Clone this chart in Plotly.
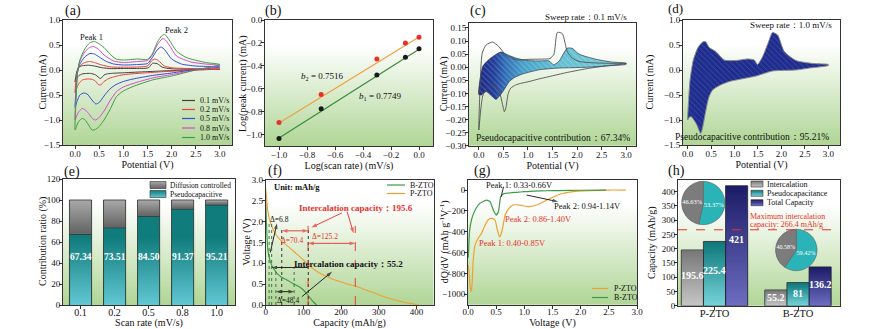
import base64
import struct
import zlib
import plotly.graph_objects as go

W, H = 893, 329
FONT = "Liberation Serif"

# ===================== data =====================
# (a) cyclic voltammograms: oxidation sweep (0 -> 3 V) then reduction sweep (3 -> 0 V)
scan_labels = ["0.1 mV/s", "0.2 mV/s", "0.5 mV/s", "0.8 mV/s", "1.0 mV/s"]

cv01_E_ox = [0.0, 0.02, 0.07, 0.15, 0.28, 0.4, 0.55, 0.75, 1.0, 1.3, 1.45, 1.53, 1.6, 1.7, 1.8, 1.9, 2.04, 2.3, 2.6, 3.0]
cv01_I_ox = [-0.24, -0.1, 0.054, 0.085, 0.096, 0.08, 0.047, 0.028, 0.03, 0.031, 0.033, 0.05, 0.133, 0.128, 0.06, 0.035, 0.022, 0.017, 0.015, 0.014]
cv01_E_red = [2.6, 2.25, 1.8, 1.43, 1.2, 1.02, 0.85, 0.75, 0.65, 0.6, 0.55, 0.52, 0.48, 0.42, 0.32, 0.22, 0.15, 0.08, 0.04, 0.0]
cv01_I_red = [0.005, -0.004, -0.02, -0.036, -0.046, -0.055, -0.062, -0.068, -0.08, -0.1, -0.155, -0.17, -0.14, -0.095, -0.068, -0.07, -0.08, -0.11, -0.16, -0.24]

cv02_E_ox = [0.0, 0.02, 0.06, 0.12, 0.2, 0.3, 0.4, 0.55, 0.75, 1.0, 1.3, 1.5, 1.58, 1.65, 1.72, 1.85, 2.0, 2.3, 2.6, 3.0]
cv02_I_ox = [-0.45, -0.2, 0.02, 0.1, 0.15, 0.17, 0.15, 0.1, 0.06, 0.055, 0.06, 0.08, 0.18, 0.22, 0.19, 0.08, 0.045, 0.03, 0.025, 0.02]
cv02_E_red = [2.6, 2.2, 1.8, 1.5, 1.2, 1.0, 0.85, 0.7, 0.6, 0.53, 0.48, 0.42, 0.35, 0.25, 0.15, 0.08, 0.04, 0.0]
cv02_I_red = [0.005, -0.015, -0.035, -0.055, -0.075, -0.095, -0.125, -0.17, -0.23, -0.3, -0.29, -0.22, -0.185, -0.18, -0.2, -0.27, -0.35, -0.45]

cv05_E_ox = [0.0, 0.02, 0.05, 0.1, 0.2, 0.31, 0.4, 0.5, 0.65, 0.8, 1.0, 1.3, 1.5, 1.6, 1.7, 1.78, 1.86, 2.0, 2.2, 2.5, 3.0]
cv05_I_ox = [-0.75, -0.4, -0.05, 0.12, 0.26, 0.33, 0.32, 0.26, 0.17, 0.12, 0.1, 0.11, 0.13, 0.25, 0.4, 0.46, 0.4, 0.22, 0.12, 0.08, 0.06]
cv05_E_red = [2.5, 2.0, 1.6, 1.2, 1.0, 0.85, 0.72, 0.6, 0.5, 0.43, 0.35, 0.25, 0.18, 0.1, 0.05, 0.0]
cv05_I_red = [0.01, -0.06, -0.11, -0.18, -0.23, -0.29, -0.38, -0.52, -0.65, -0.68, -0.6, -0.48, -0.46, -0.5, -0.6, -0.75]

cv08_E_ox = [0.0, 0.02, 0.05, 0.1, 0.2, 0.3, 0.38, 0.48, 0.6, 0.8, 1.0, 1.3, 1.5, 1.6, 1.7, 1.8, 1.85, 1.95, 2.1, 2.4, 2.7, 3.0]
cv08_I_ox = [-1.0, -0.5, -0.05, 0.18, 0.36, 0.45, 0.47, 0.42, 0.3, 0.18, 0.15, 0.17, 0.19, 0.3, 0.5, 0.62, 0.62, 0.5, 0.28, 0.16, 0.12, 0.09]
cv08_E_red = [2.5, 2.0, 1.6, 1.2, 1.0, 0.86, 0.72, 0.6, 0.5, 0.42, 0.36, 0.28, 0.2, 0.15, 0.08, 0.04, 0.0]
cv08_I_red = [0.0, -0.09, -0.16, -0.27, -0.34, -0.43, -0.62, -0.82, -0.95, -1.0, -0.97, -0.87, -0.79, -0.77, -0.83, -0.9, -1.0]

cv10_E_ox = [0.0, 0.02, 0.05, 0.1, 0.2, 0.3, 0.4, 0.5, 0.6, 0.72, 0.85, 1.0, 1.3, 1.5, 1.6, 1.7, 1.8, 1.86, 1.95, 2.1, 2.3, 2.7, 3.0]
cv10_I_ox = [-1.2, -0.6, -0.05, 0.2, 0.42, 0.54, 0.57, 0.52, 0.45, 0.32, 0.22, 0.2, 0.22, 0.21, 0.32, 0.55, 0.69, 0.71, 0.6, 0.38, 0.25, 0.15, 0.11]
cv10_E_red = [2.5, 2.0, 1.6, 1.2, 1.0, 0.86, 0.72, 0.6, 0.5, 0.42, 0.35, 0.28, 0.2, 0.15, 0.08, 0.04, 0.0]
cv10_I_red = [0.0, -0.12, -0.2, -0.33, -0.42, -0.53, -0.8, -1.0, -1.13, -1.19, -1.2, -1.1, -0.99, -0.97, -1.02, -1.1, -1.2]

# (b) log(peak current) vs log(scan rate)
log_scan = [-1.0, -0.699, -0.301, -0.097, 0.0]
log_ip_peak2 = [-0.895, -0.65, -0.34, -0.2, -0.15]
log_ip_peak1 = [-1.035, -0.775, -0.48, -0.325, -0.25]
fit_x = [-1.0, 0.0]
fit_peak2 = [-0.8996, -0.148]
fit_peak1 = [-1.03, -0.255]
b_labels = ["<i>b</i><sub>2</sub> = 0.7516", "<i>b</i><sub>1</sub> = 0.7749"]

# (c) pseudocapacitive region, 0.1 mV/s
pc01_E_up = [0.0, 0.08, 0.18, 0.28, 0.45, 0.59, 0.75, 0.96, 1.2, 1.43, 1.52, 1.63, 1.72, 1.8, 1.9, 2.04, 2.37, 2.7, 3.0]
pc01_I_up = [-0.105, 0.003, 0.025, 0.04, 0.058, 0.047, 0.035, 0.026, 0.024, 0.024, 0.009, 0.022, 0.05, 0.073, 0.072, 0.05, 0.031, 0.02, 0.015]
pc01_E_low = [3.0, 2.6, 2.24, 1.9, 1.56, 1.23, 0.89, 0.72, 0.62, 0.49, 0.35, 0.28, 0.15, 0.05, 0.0]
pc01_I_low = [0.011, 0.005, 0.0, -0.002, -0.004, -0.01, -0.026, -0.04, -0.055, -0.093, -0.123, -0.113, -0.093, -0.106, -0.105]

# (d) pseudocapacitive region, 1.0 mV/s
pc10_E_up = [0.0, 0.02, 0.05, 0.12, 0.22, 0.32, 0.38, 0.46, 0.6, 0.78, 1.03, 1.28, 1.42, 1.49, 1.6, 1.72, 1.81, 1.92, 2.06, 2.31, 2.67, 3.0]
pc10_I_up = [-1.0, -0.6, -0.2, 0.2, 0.45, 0.56, 0.57, 0.45, 0.37, 0.2, 0.19, 0.22, 0.2, 0.11, 0.27, 0.55, 0.75, 0.7, 0.37, 0.19, 0.13, 0.11]
pc10_E_low = [3.0, 2.6, 2.31, 1.81, 1.46, 1.2, 0.89, 0.7, 0.53, 0.45, 0.39, 0.33, 0.28, 0.18, 0.07, 0.02, 0.0]
pc10_I_low = [0.09, 0.04, 0.0, -0.02, -0.12, -0.17, -0.23, -0.3, -0.4, -0.55, -0.8, -1.1, -1.27, -1.07, -0.93, -0.96, -1.0]
sweep_texts = ["Sweep rate\uff1a0.1 mV/s", "Sweep rate\uff1a1.0 mV/s"]
contrib_texts = ["Pseudocapacitive contribution\uff1a67.34%", "Pseudocapacitive contribution\uff1a95.21%"]

# (e) contribution ratio
rate_labels = ["0.1", "0.2", "0.5", "0.8", "1.0"]
pseudo_pct = [67.34, 73.51, 84.50, 91.37, 95.21]
diffusion_pct = [32.66, 26.49, 15.50, 8.63, 4.79]

# (f) discharge curves
bzto_cap = [0, 0.5, 1, 3, 6, 10, 14, 18, 25, 32, 40, 50, 60, 70, 80, 90, 100, 110, 120, 128, 135]
bzto_volt = [2.6, 2.45, 2.28, 1.75, 1.3, 1.12, 1.0, 0.92, 0.82, 0.74, 0.68, 0.63, 0.58, 0.53, 0.48, 0.43, 0.36, 0.26, 0.14, 0.06, 0.0]
pzto_cap = [0, 2, 5, 10, 18, 28, 43, 60, 80, 100, 115, 130, 150, 170, 190, 210, 235, 260, 290, 320, 350, 375, 395, 405]
pzto_volt = [2.8, 2.6, 2.3, 2.05, 1.85, 1.68, 1.52, 1.4, 1.24, 1.08, 0.95, 0.84, 0.73, 0.65, 0.58, 0.52, 0.46, 0.38, 0.28, 0.18, 0.1, 0.05, 0.02, 0.0]
b_plateau_a = [9.0, 15.8]     # delta 6.8
b_plateau_b = [27.0, 75.4]    # delta 48.4
p_plateau_a = [42.6, 113.0]   # delta 70.4
p_plateau_b = [112.4, 237.6]  # delta 125.2

# (g) dQ/dV
g_b_volt = [0.005, 0.03, 0.06, 0.1, 0.15, 0.21, 0.27, 0.33, 0.39, 0.45, 0.5, 0.54, 0.58, 0.62, 0.66, 0.76, 0.86, 1.0, 1.16, 1.4, 1.6, 2.0, 2.45]
g_b_dqdv = [-650, -384, -290, -224, -170, -128, -110, -96, -112, -192, -240, -208, -64, -40, -32, -26, -22, -16, -10, -7, -5, -2, 0]
g_p_volt = [0.005, 0.02, 0.04, 0.06, 0.075, 0.09, 0.12, 0.18, 0.24, 0.3, 0.36, 0.42, 0.48, 0.52, 0.56, 0.6, 0.66, 0.72, 0.8, 0.92, 1.07, 1.22, 1.4, 1.63, 1.87, 2.17, 2.47, 2.8]
g_p_dqdv = [-720, -800, -930, -975, -880, -700, -540, -463, -415, -340, -285, -272, -290, -380, -450, -400, -240, -180, -144, -144, -160, -144, -96, -41, -16, -6, 0, 0]

# (h) capacity breakdown
groups = ["P-ZTO", "B-ZTO"]
intercalation = [195.6, 55.2]
pseudocap = [225.4, 81]
total_cap = [421, 136.2]
pie_pzto = [53.37, 46.63]
pie_bzto = [59.42, 40.58]
max_intercal = 266.4

# axis titles
x_titles = {1: "Potential (V)", 2: "Log(scan rate) (mV/s)", 3: "Potential (V)", 4: "Potential (V)",
            5: "Scan rate (mV/s)", 6: "Capacity (mAh/g)", 7: "Voltage (V)"}
y_titles = {1: "Current (mA)", 2: "Log(peak current) (mA)", 3: "Current (mA)", 4: "Current (mA)",
            5: "Contribution ratio (%)", 6: "Voltage (V)", 7: "dQ/dV (mAh g<sup>-1</sup>V<sup>-1</sup>)", 8: "Capacity (mAh/g)"}

# ===================== helpers =====================
def lerp(c1, c2, t):
    return tuple(int(round(a + (b - a) * t)) for a, b in zip(c1, c2))


def png_uri(rows, w=4):
    raw = b"".join(b"\x00" + bytes([c for _ in range(w) for c in px]) for px in rows)

    def chunk(tag, data):
        return struct.pack(">I", len(data)) + tag + data + struct.pack(">I", zlib.crc32(tag + data) & 0xFFFFFFFF)

    ihdr = struct.pack(">IIBBBBB", w, len(rows), 8, 2, 0, 0, 0)
    png = b"\x89PNG\r\n\x1a\n" + chunk(b"IHDR", ihdr) + chunk(b"IDAT", zlib.compress(raw, 9)) + chunk(b"IEND", b"")
    return "data:image/png;base64," + base64.b64encode(png).decode()


def vgrad(top, bottom, n=48):
    return png_uri([lerp(top, bottom, (k + 0.5) / n) for k in range(n)])


# panel plot rectangles in pixels: (left, right, top, bottom)
RECT = {
    1: (63, 232, 20, 145),
    2: (265, 433, 20, 146),
    3: (469, 636, 22.7, 145.7),
    4: (683, 840, 20, 145),
    5: (63, 235, 179, 305),
    6: (265.7, 433.5, 180, 305),
    7: (468, 637, 179.6, 304.7),
    8: (678, 840, 180.3, 305.7),
}
# horizontal pixel position of each vertical axis title
YTITLE_X = {1: 42, 2: 243, 3: 444, 4: 649, 5: 43, 6: 246, 7: 444, 8: 652}


def xid(i):
    return "x" if i == 1 else f"x{i}"


def yid(i):
    return "y" if i == 1 else f"y{i}"


anns, shapes, images = [], [], []
fig = go.Figure()


def txt(text, x, y, size=9, color="#111", xanchor="center", yanchor="middle", xref="paper", yref="paper", bold=False, angle=0):
    if xref == "paper":
        x = x / W
    if yref == "paper":
        y = 1 - y / H
    anns.append(dict(text=f"<b>{text}</b>" if bold else text, x=x, y=y, xref=xref, yref=yref, showarrow=False,
                     xanchor=xanchor, yanchor=yanchor, textangle=angle, font=dict(family=FONT, size=size, color=color)))


def arrow(x0, y0, x1, y1, panel, color, both=False):
    """Arrow from (x0, y0) to head at (x1, y1); both=True puts heads at both ends."""
    if both:
        xm, ym = (x0 + x1) / 2, (y0 + y1) / 2
        xs, ys, sz = [xm, x0, None, xm, x1], [ym, y0, None, ym, y1], [0, 6, 0, 0, 6]
    else:
        xs, ys, sz = [x0, x1], [y0, y1], [0, 6]
    fig.add_trace(go.Scatter(x=xs, y=ys, mode="lines+markers", line=dict(color=color, width=0.9),
                             marker=dict(symbol="arrow", angleref="previous", size=sz, color=color, line=dict(width=0)),
                             xaxis=xid(panel), yaxis=yid(panel), showlegend=False, hoverinfo="skip"))


def pline(x0, y0, x1, y1, color, width=1.2, dash=None):
    shapes.append(dict(type="line", xref="paper", yref="paper", x0=x0 / W, x1=x1 / W, y0=1 - y0 / H, y1=1 - y1 / H,
                       line=dict(color=color, width=width, dash=dash)))


def pimage(uri, x0, y0, x1, y1):
    images.append(dict(source=uri, xref="paper", yref="paper", x=x0 / W, y=1 - y0 / H, sizex=(x1 - x0) / W,
                       sizey=(y1 - y0) / H, xanchor="left", yanchor="top", sizing="stretch", layer="above"))
    shapes.append(dict(type="rect", xref="paper", yref="paper", x0=x0 / W, x1=x1 / W, y0=1 - y1 / H, y1=1 - y0 / H,
                       line=dict(color="#333", width=0.6)))


# background gradient (white top -> pale green bottom) for every panel
bg_rows = []
for k in range(64):
    t = (k + 0.5) / 64
    bg_rows.append(lerp((255, 255, 255), (176, 214, 150), max(0.0, (t - 0.2) / 0.8)))
BG = png_uri(bg_rows)
for i in RECT:
    images.append(dict(source=BG, xref=f"{xid(i)} domain", yref=f"{yid(i)} domain", x=0, y=1, sizex=1, sizey=1,
                       xanchor="left", yanchor="top", sizing="stretch", layer="below"))

# ---------- (a) ----------
cv_sets = [
    (cv01_E_ox + cv01_E_red, cv01_I_ox + cv01_I_red, "#404040"),
    (cv02_E_ox + cv02_E_red, cv02_I_ox + cv02_I_red, "#e8423a"),
    (cv05_E_ox + cv05_E_red, cv05_I_ox + cv05_I_red, "#2f4fd8"),
    (cv08_E_ox + cv08_E_red, cv08_I_ox + cv08_I_red, "#d848d0"),
    (cv10_E_ox + cv10_E_red, cv10_I_ox + cv10_I_red, "#3f9f3f"),
]
for lab, (E, I, c) in zip(scan_labels, cv_sets):
    fig.add_trace(go.Scatter(x=E, y=I, mode="lines", name=lab, line=dict(color=c, width=1, shape="spline", smoothing=0.6),
                             xaxis="x", yaxis="y", showlegend=False))
txt("Peak 1", 0.35, 0.67, size=8.5, xref="x", yref="y")
txt("Peak 2", 2.11, 0.8, size=8.5, xref="x", yref="y")
for k, (lab, (_, _, c)) in enumerate(zip(scan_labels, cv_sets)):
    y = [100.5, 109.5, 118.5, 128, 137.5][k]
    pline(182, y, 195, y, c, 1.2)
    txt(lab, 198, y, size=8, xanchor="left")

# ---------- (b) ----------
fig.add_trace(go.Scatter(x=fit_x, y=fit_peak2, mode="lines", line=dict(color="#f0a040", width=1.2), xaxis="x2", yaxis="y2", showlegend=False, name="fit peak 2"))
fig.add_trace(go.Scatter(x=fit_x, y=fit_peak1, mode="lines", line=dict(color="#3a8a3a", width=1.2), xaxis="x2", yaxis="y2", showlegend=False, name="fit peak 1"))
fig.add_trace(go.Scatter(x=log_scan, y=log_ip_peak2, mode="markers", marker=dict(color="#e8302a", size=5), xaxis="x2", yaxis="y2", showlegend=False, name="Peak 2"))
fig.add_trace(go.Scatter(x=log_scan, y=log_ip_peak1, mode="markers", marker=dict(color="#1a1a1a", size=5), xaxis="x2", yaxis="y2", showlegend=False, name="Peak 1"))
txt(b_labels[0], -0.69, -0.49, size=9, xref="x2", yref="y2")
txt(b_labels[1], -0.28, -0.67, size=9, xref="x2", yref="y2")

# ---------- (c) ----------
pc01_E = pc01_E_up + pc01_E_low
pc01_I = pc01_I_up + pc01_I_low
fig.add_trace(go.Scatter(x=pc01_E, y=pc01_I, mode="lines", fill="toself", line=dict(width=0, shape="spline", smoothing=0.6),
                         fillgradient=dict(type="horizontal", start=0, stop=3.0,
                                           colorscale=[[0, "#1a2888"], [0.1, "#203c98"], [0.18, "#2f6cb6"], [0.3, "#46a0c8"], [0.5, "#5ebcd0"], [1, "#7ccfda"]]),
                         xaxis="x3", yaxis="y3", showlegend=False, hoverinfo="skip"))
fig.add_trace(go.Scatter(x=pc01_E, y=pc01_I, mode="lines", fill="toself", fillcolor="rgba(0,0,0,0)",
                         fillpattern=dict(shape="\\", fgcolor="rgba(255,255,255,0.45)", bgcolor="rgba(0,0,0,0)", size=4, solidity=0.25),
                         line=dict(color="#1c1c40", width=0.6, shape="spline", smoothing=0.6),
                         xaxis="x3", yaxis="y3", showlegend=False, name="Pseudocapacitive 0.1 mV/s"))
fig.add_trace(go.Scatter(x=cv01_E_ox + cv01_E_red, y=cv01_I_ox + cv01_I_red, mode="lines", line=dict(color="#505050", width=0.9, shape="spline", smoothing=0.6),
                         xaxis="x3", yaxis="y3", showlegend=False, name="0.1 mV/s"))
txt(sweep_texts[0], 586, 17, size=9)
txt(contrib_texts[0], 553, 138, size=9.5)

# ---------- (d) ----------
pc10_E = pc10_E_up + pc10_E_low
pc10_I = pc10_I_up + pc10_I_low
fig.add_trace(go.Scatter(x=pc10_E, y=pc10_I, mode="lines", fill="toself", fillcolor="#1f2d8f",
                         fillpattern=dict(shape="\\", fgcolor="rgba(255,255,255,0.35)", bgcolor="#1f2d8f", size=4, solidity=0.2),
                         line=dict(color="#8a8a8a", width=1, shape="spline", smoothing=0.6),
                         xaxis="x4", yaxis="y4", showlegend=False, name="Pseudocapacitive 1.0 mV/s"))
txt(sweep_texts[1], 791, 25, size=9)
txt(contrib_texts[1], 752, 137, size=9.5)

# ---------- (e) ----------
e_idx = list(range(len(rate_labels)))
e_w = 0.65
TEAL_D, TEAL_L = (16, 124, 124), (98, 200, 212)
GRAY_T, GRAY_B = (168, 168, 168), (100, 100, 100)
fig.add_trace(go.Bar(x=e_idx, y=pseudo_pct, width=e_w, name="Pseudocapacitive", marker=dict(color="rgb(16,124,124)", line=dict(color="#2a2a2a", width=0.8)),
                     xaxis="x5", yaxis="y5", showlegend=False))
fig.add_trace(go.Bar(x=e_idx, y=diffusion_pct, base=pseudo_pct, width=e_w, name="Diffusion controlled", marker=dict(color="rgb(130,130,130)", line=dict(color="#2a2a2a", width=0.8)),
                     xaxis="x5", yaxis="y5", showlegend=False))
inx, iny = 0.6 / 34, 0.6 * 120 / 126
for i, (p, d) in zip(e_idx, zip(pseudo_pct, diffusion_pct)):
    n = 64
    rows = [lerp(TEAL_L, TEAL_D, min(p * (1 - (k + 0.5) / n) / 65.0, 1.0)) for k in range(n)]
    images.append(dict(source=png_uri(rows), xref="x5", yref="y5", x=i - e_w / 2 + inx, y=p - iny, sizex=e_w - 2 * inx,
                       sizey=p - iny, xanchor="left", yanchor="top", sizing="stretch", layer="above"))
    images.append(dict(source=vgrad(GRAY_T, GRAY_B), xref="x5", yref="y5", x=i - e_w / 2 + inx, y=p + d - iny,
                       sizex=e_w - 2 * inx, sizey=max(d - 2 * iny, 0.1), xanchor="left", yanchor="top", sizing="stretch", layer="above"))
    txt(f"{p:.2f}", i, 46, size=9.5, color="white", xref="x5", yref="y5", bold=True)
pimage(vgrad(GRAY_T, GRAY_B), 150, 181.5, 166, 188.5)
txt("Diffusion controlled", 168, 185, size=7.5, xanchor="left")
pimage(vgrad(TEAL_D, TEAL_L), 150, 190.5, 166, 197.5)
txt("Pseudocapacitive", 168, 194, size=7.5, xanchor="left")

# ---------- (f) ----------
fig.add_trace(go.Scatter(x=bzto_cap, y=bzto_volt, mode="lines", name="B-ZTO", line=dict(color="#3c9a46", width=1.1, shape="spline", smoothing=0.5),
                         xaxis="x6", yaxis="y6", showlegend=False))
fig.add_trace(go.Scatter(x=pzto_cap, y=pzto_volt, mode="lines", name="P-ZTO", line=dict(color="#f0a030", width=1.1, shape="spline", smoothing=0.5),
                         xaxis="x6", yaxis="y6", showlegend=False))
for xs, top, col, dash in [(b_plateau_a, 2.0, "#2f6a3a", "dot"), (b_plateau_b, 0.9, "#2f6a3a", "dot"),
                           (p_plateau_a, 1.85, "#222", "dot"), (p_plateau_b, 1.9, "#e8302a", "dash")]:
    for xv in xs:
        shapes.append(dict(type="line", xref="x6", yref="y6", x0=xv, x1=xv, y0=0, y1=top, line=dict(color=col, width=0.9, dash=dash)))
arrow(p_plateau_a[0], 1.78, p_plateau_a[1], 1.78, 6, "#e8302a", both=True)
arrow(p_plateau_b[0], 1.48, p_plateau_b[1], 1.48, 6, "#e8302a", both=True)
arrow(b_plateau_b[0], 0.32, b_plateau_b[1], 0.32, 6, "#111", both=True)
arrow(202, 2.21, 121, 1.86, 6, "#e8302a")
arrow(216, 2.24, 233, 1.72, 6, "#e8302a")
arrow(113, 0.9, 15, 0.9, 6, "#111")
arrow(12, 1.26, 30, 1.96, 6, "#111")
arrow(96, 0.2, 176, 0.8, 6, "#111")
txt("Unit: mAh/g", 16, 2.84, size=8.5, xanchor="left", xref="x6", yref="y6", bold=True)
txt("Intercalation capacity\uff1a195.6", 240, 2.32, size=9, color="#e8302a", xref="x6", yref="y6", bold=True)
txt("Intercalation capacity\uff1a55.2", 220, 0.98, size=9, xref="x6", yref="y6", bold=True)
txt("\u0394=6.8", 36, 2.06, size=7.5, xref="x6", yref="y6")
txt("\u0394=70.4", 69, 1.56, size=7.5, color="#e8302a", xref="x6", yref="y6")
txt("\u0394=125.2", 158, 1.64, size=7.5, color="#e8302a", xref="x6", yref="y6")
txt("\u0394=48.4", 60, 0.1, size=7.5, xref="x6", yref="y6")
pline(387, 185, 405, 185, "#3c9a46", 1.2)
txt("B-ZTO", 408, 185, size=8, xanchor="left")
pline(387, 193.5, 405, 193.5, "#f0a030", 1.2)
txt("P-ZTO", 408, 193.5, size=8, xanchor="left")

# ---------- (g) ----------
fig.add_trace(go.Scatter(x=g_p_volt, y=g_p_dqdv, mode="lines", name="P-ZTO", line=dict(color="#f0a030", width=1.2, shape="spline", smoothing=0.5),
                         xaxis="x7", yaxis="y7", showlegend=False))
fig.add_trace(go.Scatter(x=g_b_volt, y=g_b_dqdv, mode="lines", name="B-ZTO", line=dict(color="#3c9a46", width=1.2, shape="spline", smoothing=0.5),
                         xaxis="x7", yaxis="y7", showlegend=False))
txt("Peak 1: 0.33-0.66V", 0.92, 48, size=8.5, xref="x7", yref="y7")
shapes.append(dict(type="line", xref="x7", yref="y7", x0=0.63, y0=32, x1=0.59, y1=-64, line=dict(color="#111", width=0.9)))
txt("Peak 2: 0.94-1.14V", 2.13, -153, size=8.5, xref="x7", yref="y7")
arrow(1.04, -48, 1.6, -112, 7, "#111")
txt("Peak 2: 0.86-1.40V", 1.26, -281, size=8.5, color="#e8302a", xref="x7", yref="y7")
txt("Peak 1: 0.40-0.85V", 0.79, -505, size=8.5, color="#e8302a", xref="x7", yref="y7")
pline(592, 288.5, 608, 288.5, "#f0a030", 1.2)
txt("P-ZTO", 611.5, 288.5, size=8, xanchor="left")
pline(592, 297.5, 608, 297.5, "#3c9a46", 1.2)
txt("B-ZTO", 611.5, 297.5, size=8, xanchor="left")

# ---------- (h) ----------
h_idx = list(range(len(groups)))
bw = 0.265
h_series = [
    ("Intercalation", intercalation, -1.5 * bw, (120, 120, 120), (198, 198, 198)),
    ("Pseudocapacitance", pseudocap, -0.5 * bw, (14, 120, 122), (118, 212, 218)),
    ("Total Capacity", total_cap, 0.5 * bw, (28, 28, 104), (110, 110, 194)),
]
hx, hy = 0.6 / 83.5, 0.6 * 440 / 125.4
for name, vals, off, ctop, cbot in h_series:
    fig.add_trace(go.Bar(x=h_idx, y=vals, width=bw, offset=off, name=name, marker=dict(color="rgb(%d,%d,%d)" % ctop, line=dict(color="#2a2a2a", width=0.8)),
                         xaxis="x8", yaxis="y8", showlegend=False))
    for i, v in zip(h_idx, vals):
        images.append(dict(source=vgrad(ctop, cbot), xref="x8", yref="y8", x=i + off + hx, y=v - hy, sizex=bw - 2 * hx,
                           sizey=v - hy, xanchor="left", yanchor="top", sizing="stretch", layer="above"))
        txt(f"{v:g}", i + off + bw / 2, v * 0.55, size=10, color="white", xref="x8", yref="y8", bold=True)
shapes.append(dict(type="line", xref="x8 domain", yref="y8", x0=0, x1=1, y0=max_intercal, y1=max_intercal,
                   line=dict(color="#e8302a", width=1, dash="dash")))
txt("Maximum intercalation", 748, 216.7, size=8, color="#e8302a", xanchor="left")
txt("capacity: 266.4 mAh/g", 748, 224.5, size=8, color="#e8302a", xanchor="left")
for pie_vals, (cx, cy, r) in [(pie_pzto, (703.3, 203, 21.7)), (pie_bzto, (796.3, 250, 20.8))]:
    fig.add_trace(go.Pie(values=pie_vals, labels=["Pseudocapacitance", "Intercalation"], sort=False, direction="clockwise", rotation=0,
                         marker=dict(colors=["#2ab4b8", "#7c7c7c"], line=dict(color="#555", width=0.5)),
                         texttemplate="%{value:.2f}%", textposition="inside", insidetextorientation="horizontal",
                         textfont=dict(family=FONT, size=6.5, color="white"), showlegend=False, hoverinfo="skip",
                         domain=dict(x=[(cx - r) / W, (cx + r) / W], y=[1 - (cy + r) / H, 1 - (cy - r) / H])))
for k, (name, _, _, ctop, cbot) in enumerate(h_series):
    y = [184, 193.3, 202.7][k]
    pimage(vgrad(ctop, cbot), 751, y - 3, 763, y + 3)
    txt(name, 765, y, size=8, xanchor="left")

# ---------- panel labels ----------
for lab, x, y, s in [("(a)", 63, 11, 14), ("(b)", 263, 11, 14), ("(c)", 468, 11, 14), ("(d)", 666, 8, 13),
                     ("(e)", 62, 171.5, 14), ("(f)", 265.7, 171, 14), ("(g)", 471.7, 171, 14), ("(h)", 666, 171, 14)]:
    txt(lab, x, y, size=s, xanchor="left")

# ---------- vertical axis titles ----------
for i, title in y_titles.items():
    l, r, t, b = RECT[i]
    txt(title, YTITLE_X[i], (t + b) / 2, size=10, angle=-90)

# ---------- axes ----------
base = dict(showline=True, mirror=True, linecolor="#333", linewidth=1, ticks="outside", ticklen=3, tickwidth=1,
            tickcolor="#333", showgrid=False, zeroline=False, automargin=False,
            tickfont=dict(family=FONT, size=9, color="#111"))
tfont = dict(family=FONT, size=10, color="#111")
xcfg = {
    1: dict(range=[-0.25, 3.25], dtick=0.5, tick0=0, tickformat=".1f"),
    2: dict(range=[-1.1, 0.1], dtick=0.2, tick0=0, tickformat=".1f"),
    3: dict(range=[-0.2, 3.2], dtick=0.5, tick0=0, tickformat=".1f"),
    4: dict(range=[-0.1, 3.25], dtick=0.5, tick0=0, tickformat=".1f"),
    5: dict(range=[-0.515, 4.54], tickvals=e_idx, ticktext=rate_labels, tickfont=dict(family=FONT, size=10, color="#111")),
    6: dict(range=[0, 445], dtick=100, tick0=0),
    7: dict(range=[0, 3.0], dtick=0.5, tick0=0, tickformat=".1f"),
    8: dict(range=[-0.437, 1.503], tickvals=h_idx, ticktext=groups, tickfont=dict(family=FONT, size=10.5, color="#111")),
}
ycfg = {
    1: dict(range=[-1.5, 1.0], dtick=0.5, tick0=0, tickformat=".1f"),
    2: dict(range=[-1.1, 0.0], dtick=0.2, tick0=0, tickformat=".1f"),
    3: dict(range=[-0.30, 0.17], dtick=0.05, tick0=0, tickformat=".2f"),
    4: dict(range=[-1.5, 1.0], dtick=0.5, tick0=0, tickformat=".1f"),
    5: dict(range=[0, 120], dtick=20, tick0=0),
    6: dict(range=[0, 3.0], dtick=0.5, tick0=0, tickformat=".1f"),
    7: dict(range=[-1100, 100], dtick=200, tick0=0),
    8: dict(range=[0, 440], dtick=50, tick0=0),
}
layout_axes = {}
for i, (l, r, t, b) in RECT.items():
    bottom_row = i >= 5
    xa = dict(base, domain=[l / W, r / W], anchor=yid(i), ticklabelstandoff=-5 if bottom_row else -3)
    xa.update(xcfg[i])
    if i in x_titles:
        xa["title"] = dict(text=x_titles[i], font=tfont, standoff=4 if bottom_row else 0)
    ya = dict(base, domain=[1 - b / H, 1 - t / H], anchor=xid(i), ticklabelstandoff=-3)
    ya.update(ycfg[i])
    layout_axes["xaxis" if i == 1 else f"xaxis{i}"] = xa
    layout_axes["yaxis" if i == 1 else f"yaxis{i}"] = ya

fig.update_layout(
    width=W, height=H, margin=dict(l=0, r=0, t=0, b=0),
    paper_bgcolor="white", plot_bgcolor="white", barmode="overlay", showlegend=False,
    font=dict(family=FONT, size=9, color="#111"),
    annotations=anns, shapes=shapes, images=images,
    **layout_axes,
)

fig.write_html("out.html", config={"displayModeBar": False},
               post_script="document.body.style.margin='0';document.body.style.overflow='hidden';")
